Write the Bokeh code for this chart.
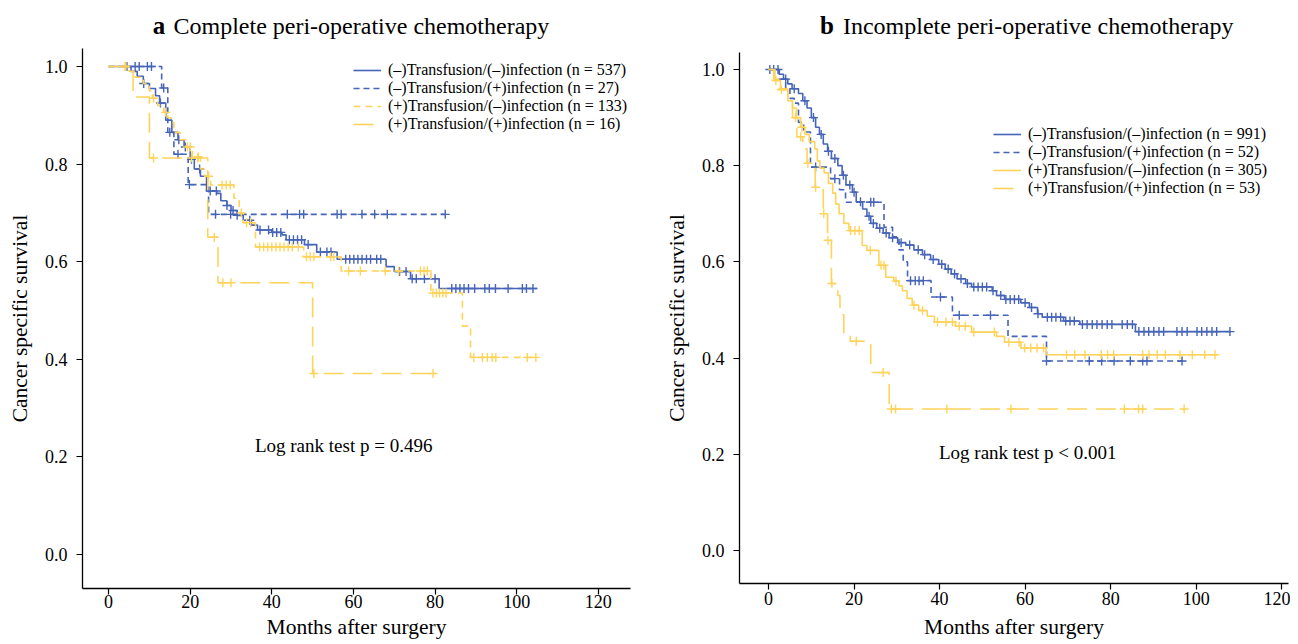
import numpy as np
from bokeh.plotting import figure
from bokeh.layouts import row, column
from bokeh.models import Legend, LegendItem, Label, FixedTicker, PrintfTickFormatter, Range1d
from bokeh.embed import file_html
from bokeh.resources import INLINE

BLUE = "#4664B8"
YELLOW = "#FFD35A"
FONT = "Liberation Serif"

# ---------------- Panel a : complete peri-operative chemotherapy ----------------
a_titles = ["a", "Complete peri-operative chemotherapy"]
a_labels = ["(\u2013)Transfusion/(\u2013)infection (n = 537)",
            "(\u2013)Transfusion/(+)infection (n = 27)",
            "(+)Transfusion/(\u2013)infection (n = 133)",
            "(+)Transfusion/(+)infection (n = 16)"]
a_pvalue = "Log rank test p = 0.496"

a_nn_t = [5.5, 7, 8.5, 10, 11.5, 12.5, 14, 15.5, 17, 18.5, 20, 21, 22.5, 24, 26.5, 27.5, 29, 30,
          31.5, 33, 35, 36.5, 40, 42.5, 43.5, 48, 51, 56, 68, 70, 74, 81]
a_nn_s = [0.99, 0.98, 0.965, 0.955, 0.94, 0.925, 0.89, 0.865, 0.85, 0.835, 0.81, 0.79, 0.775, 0.745,
          0.74, 0.725, 0.715, 0.705, 0.695, 0.685, 0.675, 0.665, 0.66, 0.655, 0.645, 0.635, 0.62,
          0.605, 0.59, 0.58, 0.565, 0.545]
a_nn_end = 105
a_nn_c = [8.6, 12.7, 17.2, 18.8, 20.3, 22.3, 24.9, 26.4, 29, 30.5, 31.5, 34.6, 37.1, 39.2, 40.2, 41.2,
          42.2, 44.3, 45.3, 46.3, 47.3, 48.9, 51.9, 53.5, 54.5, 58.1, 59.1, 60.1, 61.1, 62.1, 63.2,
          64.2, 65.7, 66.7, 71.3, 72.9, 74.4, 75.4, 77.4, 80, 84.1, 85.1, 86.1, 87.1, 88.2, 89.7,
          92.2, 93.3, 94.8, 97.9, 101.4, 102.4, 104]

a_np_t = [13, 14.5, 16, 19.5, 24.5]
a_np_s = [0.956, 0.865, 0.82, 0.758, 0.697]
a_np_end = 82.5
a_np_c = [4.5, 6.5, 7.5, 9.5, 10.5, 13.5, 15, 17, 19.8, 26.2, 29.9, 43.8, 46.8, 47.8, 56, 57, 62.1,
          65.2, 68.3, 82.5]

a_pn_t = [5, 6.5, 8.5, 10, 10.7, 12, 13.5, 14.5, 15.3, 16, 17.5, 19, 20.5, 22.5, 23.5, 25, 30.7,
          32, 33, 36, 47.8, 57, 79, 86.7, 88.7]
a_pn_s = [0.99, 0.978, 0.965, 0.95, 0.935, 0.92, 0.906, 0.895, 0.885, 0.865, 0.85, 0.835, 0.815,
          0.79, 0.775, 0.757, 0.73, 0.70, 0.68, 0.63, 0.61, 0.581, 0.536, 0.468, 0.404]
a_pn_end = 105
a_pn_c = [4.2, 11, 14, 19.3, 20, 22, 24.5, 27.8, 28.8, 29.8, 32.5, 33.8, 34.8, 37, 38, 39, 40, 41,
          42, 43, 44, 45, 46.5, 48.5, 49.4, 50.3, 54.4, 55.2, 58.8, 61.7, 67.8, 71.1, 76.4, 77.3,
          78.1, 79.5, 80.3, 81.1, 81.9, 82.7, 89.5, 91.6, 92.8, 94, 94.9, 102.6, 104.7]

a_pp_t = [6, 10, 24.3, 26.8, 50]
a_pp_s = [0.9375, 0.8125, 0.65, 0.557, 0.371]
a_pp_end = 79.5
a_pp_c = [4, 11, 20.3, 21.8, 25.9, 28, 30, 50.3, 79.5]

# ---------------- Panel b : incomplete peri-operative chemotherapy ----------------
b_titles = ["b", "Incomplete peri-operative chemotherapy"]
b_labels = ["(\u2013)Transfusion/(\u2013)infection (n = 991)",
            "(\u2013)Transfusion/(+)infection (n = 52)",
            "(+)Transfusion/(\u2013)infection (n = 305)",
            "(+)Transfusion/(+)infection (n = 53)"]
b_pvalue = "Log rank test p < 0.001"

b_nn_t = [2.5, 3.5, 4.5, 5.5, 7, 8, 9, 10, 11, 11.9, 12.8, 13.8, 14.7, 16.2, 17.2, 18.1, 19.6,
          20.5, 22, 23, 23.9, 25.3, 26.8, 28.2, 30.2, 32.1, 34, 36, 37.9, 39.8, 41.3, 42.7, 44.1,
          46.1, 47.5, 52.3, 53.3, 55.2, 59, 61, 62.9, 64, 69, 72.8, 85.8]
b_nn_s = [0.99, 0.98, 0.97, 0.96, 0.95, 0.935, 0.92, 0.90, 0.88, 0.865, 0.845, 0.83, 0.815, 0.80,
          0.78, 0.76, 0.745, 0.725, 0.71, 0.695, 0.68, 0.67, 0.66, 0.65, 0.64, 0.635, 0.625, 0.615,
          0.605, 0.595, 0.585, 0.575, 0.565, 0.555, 0.548, 0.54, 0.53, 0.522, 0.515, 0.505, 0.492,
          0.485, 0.477, 0.470, 0.455]
b_nn_end = 108
b_nn_c = [0.3, 1.2, 2.2, 4, 6, 8.5, 10.5, 12.3, 14, 15.5, 17.5, 19, 20, 21.5, 23.5, 24.5, 26, 27.5,
          29, 31, 33, 35, 36.5, 38.5, 40.5, 42, 43.5, 45, 46.5, 48, 49, 50, 51, 52.5, 54.3, 55.5,
          56.5, 57.5, 58.5, 60, 61.5, 63, 65.2, 66.2, 67.2, 68.3, 69.5, 70.5, 71.5, 73.4, 74.5,
          75.7, 76.8, 78, 79.2, 80.3, 82.7, 83.9, 85.1, 86.6, 87.8, 88.9, 90.1, 91.3, 92.4, 95.5,
          96.7, 97.9, 100.2, 101.3, 102.5, 103.7, 104.8, 107.9]

b_np_t = [2.5, 4, 5, 6, 7, 8.2, 9.8, 14.5, 16.6, 18, 27, 29, 30.5, 31.5, 32.5, 38, 43, 56, 65]
b_np_s = [0.98, 0.96, 0.94, 0.93, 0.89, 0.87, 0.797, 0.773, 0.75, 0.724, 0.672, 0.652, 0.625,
          0.60, 0.561, 0.527, 0.489, 0.445, 0.394]
b_np_end = 97
b_np_c = [11, 15.5, 23.9, 24.6, 33.2, 34.3, 35.2, 36.2, 40.2, 44.6, 51.9, 65, 75, 77.9, 80.8, 84.6,
          87.5, 88.5, 96.7]

b_pn_t = [1.2, 2.8, 4.5, 5.6, 6.5, 7.5, 8.5, 9.5, 10.8, 11.4, 12, 13, 14, 15, 15.7, 16.5, 17.6,
          18.8, 21.9, 23, 25.8, 27.4, 29.3, 30.5, 31.3, 32.4, 33.6, 35.1, 37.1, 38.8, 43.7, 47.5,
          53.3, 55.2, 59, 64.9]
b_pn_s = [0.977, 0.958, 0.935, 0.92, 0.90, 0.88, 0.865, 0.85, 0.835, 0.81, 0.795, 0.785, 0.763,
          0.743, 0.72, 0.70, 0.68, 0.665, 0.634, 0.624, 0.593, 0.568, 0.56, 0.55, 0.54, 0.524, 0.51,
          0.499, 0.487, 0.475, 0.466, 0.454, 0.445, 0.433, 0.421, 0.407]
b_pn_end = 105
b_pn_c = [1.7, 3, 7.8, 19.2, 20.2, 21.2, 23.8, 26.3, 27, 29.8, 34, 36, 39.5, 41.5, 43, 44.6, 46,
          48, 52.8, 56.2, 58.6, 59.9, 61.3, 62.8, 64.3, 69.7, 71.6, 74, 77.8, 79.3, 80.7, 87.5, 89,
          90.9, 92.8, 96.2, 99.1, 102, 104.4]

b_pp_t = [1.5, 2.5, 4.5, 5.6, 6.6, 8, 9, 10.9, 12.8, 13.8, 14.7, 16.2, 16.7, 17.6, 19.1, 23.9, 28.2]
b_pp_s = [0.98, 0.96, 0.94, 0.90, 0.86, 0.835, 0.805, 0.755, 0.70, 0.645, 0.555, 0.53, 0.49,
          0.452, 0.435, 0.37, 0.294]
b_pp_end = 97
b_pp_c = [6.3, 7.5, 9.2, 11, 12.9, 13.9, 14.8, 20.5, 26.8, 28.7, 29.7, 41.7, 56.7, 83.2, 86.5,
          87.5, 97.2]

x_ticks = [0, 20, 40, 60, 80, 100, 120]
y_ticks = [0.0, 0.2, 0.4, 0.6, 0.8, 1.0]

TITLE_H = 40
MAIN_H = 604


def surv_at(times, surv, cens):
    t = np.asarray(times, float)
    s = np.concatenate([[1.0], np.asarray(surv, float)])
    idx = np.searchsorted(t, np.asarray(cens, float), side="right")
    return s[idx]


def add_curve(p, times, surv, end, cens, color, dash):
    xs = [0.0] + list(times) + [end]
    ys = [1.0] + list(surv) + [surv[-1]]
    r = p.step(xs, ys, mode="after", line_color=color, line_width=1.6, line_dash=dash)
    p.scatter(cens, surv_at(times, surv, cens), marker="cross", size=9,
              line_color=color, line_width=1.4)
    return r


def make_title(width, xr, titles, xpos, ypos):
    t = figure(width=width, height=TITLE_H, x_range=xr, y_range=Range1d(0, TITLE_H),
               output_backend="svg", toolbar_location=None, x_axis_type=None, y_axis_type=None,
               min_border_left=0, min_border_right=0, min_border_top=0, min_border_bottom=0)
    t.grid.visible = False
    t.outline_line_color = None
    t.add_layout(Label(x=xpos[0], y=ypos, text=titles[0], text_font=FONT,
                       text_font_style="bold", text_font_size="25px", text_baseline="middle",
                       text_align="left", text_color="black"))
    t.add_layout(Label(x=xpos[1], y=ypos, text=titles[1], text_font=FONT,
                       text_font_size="24px", text_baseline="middle", text_align="left",
                       text_color="black"))
    return t


def make_panel(width, xr, yr, borders, stand, labels, curves, pvalue, p_pos, leg_loc):
    p = figure(width=width, height=MAIN_H, x_range=xr, y_range=Range1d(*yr),
               output_backend="svg", toolbar_location=None,
               min_border_left=borders[0], min_border_right=borders[1],
               min_border_top=borders[2], min_border_bottom=borders[3])
    p.grid.visible = False
    p.outline_line_color = None
    p.background_fill_color = "white"
    p.xaxis.ticker = FixedTicker(ticks=x_ticks)
    p.yaxis.ticker = FixedTicker(ticks=y_ticks)
    p.yaxis.formatter = PrintfTickFormatter(format="%.1f")
    p.axis.major_tick_out = 6
    p.axis.major_tick_in = 0
    p.axis.minor_tick_line_color = None
    p.axis.axis_line_width = 1.3
    p.axis.axis_line_color = "black"
    p.axis.major_tick_line_color = "black"
    p.axis.major_tick_line_width = 1.2
    p.axis.major_label_text_font = FONT
    p.axis.major_label_text_font_size = "18px"
    p.axis.major_label_text_color = "black"
    p.xaxis.major_label_standoff = stand[0]
    p.yaxis.major_label_standoff = 9
    p.axis.axis_label_text_font = FONT
    p.axis.axis_label_text_font_size = "21.5px"
    p.axis.axis_label_text_font_style = "normal"
    p.axis.axis_label_text_color = "black"
    p.xaxis.axis_label_standoff = stand[1]
    p.yaxis.axis_label_standoff = 10
    p.xaxis.axis_label = "Months after surgery"
    p.yaxis.axis_label = "Cancer specific survival"

    renderers = []
    for (t, s, e, c, color, dash) in curves:
        renderers.append(add_curve(p, t, s, e, c, color, dash))

    items = [LegendItem(label=lab, renderers=[r]) for lab, r in zip(labels, renderers)]
    leg = Legend(items=items, location=leg_loc, label_text_font=FONT,
                 label_text_font_size="16px", label_text_color="black",
                 glyph_width=28, glyph_height=16, label_height=16, spacing=0,
                 label_standoff=7, padding=0, margin=0, border_line_color=None,
                 background_fill_alpha=0)
    p.add_layout(leg)

    p.add_layout(Label(x=p_pos[0], y=p_pos[1], text=pvalue, text_font=FONT,
                       text_font_size="19px", text_baseline="middle", text_align="center",
                       text_color="black"))
    return p


xa = Range1d(-6.4, 127.9)
xb = Range1d(-6.8, 121.6)

ta = make_title(650, xa, a_titles, (10.8, 15.9), 15)
pa = make_panel(650, xa, (-0.0695, 1.0368), (82, 20, 8, 56), (0, 4), a_labels,
                [(a_nn_t, a_nn_s, a_nn_end, a_nn_c, BLUE, "solid"),
                 (a_np_t, a_np_s, a_np_end, a_np_c, BLUE, "6 4"),
                 (a_pn_t, a_pn_s, a_pn_end, a_pn_c, YELLOW, "7 5"),
                 (a_pp_t, a_pp_s, a_pp_end, a_pp_c, YELLOW, "20 9")],
                a_pvalue, (57.6, 0.224), (271, 455))

tb = make_title(640, xb, b_titles, (12.0, 17.4), 15)
pb = make_panel(640, xb, (-0.0687, 1.0353), (89, 2, 12, 61), (2, 7), b_labels,
                [(b_nn_t, b_nn_s, b_nn_end, b_nn_c, BLUE, "solid"),
                 (b_np_t, b_np_s, b_np_end, b_np_c, BLUE, "6 4"),
                 (b_pn_t, b_pn_s, b_pn_end, b_pn_c, YELLOW, "solid"),
                 (b_pp_t, b_pp_s, b_pp_end, b_pp_c, YELLOW, "20 9")],
                b_pvalue, (60.6, 0.204), (254, 386))

layout = row(column(ta, pa), column(tb, pb))
open("out.html", "w").write(file_html(layout, INLINE))
